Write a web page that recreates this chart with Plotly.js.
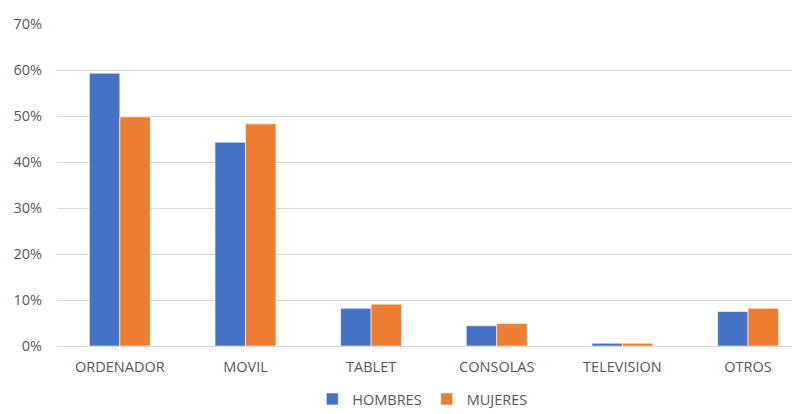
<!DOCTYPE html>
<html>
<head>
<meta charset="utf-8">
<script src="https://cdn.plot.ly/plotly-3.0.1.min.js"></script>
<style>html,body{margin:0;padding:0;background:#fff;}#chart{width:792px;height:414px;}</style>
</head>
<body>
<div id="chart"></div>
<script>
const categories = ["ORDENADOR", "MOVIL", "TABLET", "CONSOLAS", "TELEVISION", "OTROS"];
const hombres = [0.593, 0.443, 0.082, 0.044, 0.006, 0.075];
const mujeres = [0.498, 0.483, 0.091, 0.049, 0.006, 0.082];
const yTicks = [0, 0.1, 0.2, 0.3, 0.4, 0.5, 0.6, 0.7];

const font = {family: "Open Sans, Liberation Sans, sans-serif", size: 14.5, color: "#595959"};

const traces = [
  {type: "bar", name: "HOMBRES", x: categories, y: hombres,
   marker: {color: "#4472C4", line: {color: "rgba(255,255,255,0.6)", width: 1}}},
  {type: "bar", name: "MUJERES", x: categories, y: mujeres,
   marker: {color: "#ED7D31", line: {color: "rgba(255,255,255,0.6)", width: 1}}}
];

const layout = {
  width: 792, height: 414,
  margin: {l: 57, r: 0, t: 24, b: 68, autoexpand: false},
  paper_bgcolor: "#fff", plot_bgcolor: "#fff",
  font: font,
  barmode: "group", bargap: 0.515, bargroupgap: 0,
  showlegend: true,
  legend: {orientation: "h", x: 0.497, xanchor: "center", y: -0.115, yanchor: "top",
           font: font, itemwidth: 30, tracegroupgap: 0},
  xaxis: {type: "category", range: [-0.5, 5.35], showgrid: false, zeroline: false,
          showline: false, ticks: "", tickfont: font, ticklabelstandoff: 10, fixedrange: true},
  yaxis: {range: [0, 0.7], tickvals: yTicks, tickformat: ".0%", showgrid: true,
          gridcolor: "#d9d9d9", gridwidth: 1, zeroline: true, zerolinecolor: "#d9d9d9",
          zerolinewidth: 1, showline: false, ticks: "", ticklen: 0, tickfont: font,
          ticklabelstandoff: 14}
};

Plotly.newPlot("chart", traces, layout, {displayModeBar: false, staticPlot: true});
</script>
</body>
</html>
